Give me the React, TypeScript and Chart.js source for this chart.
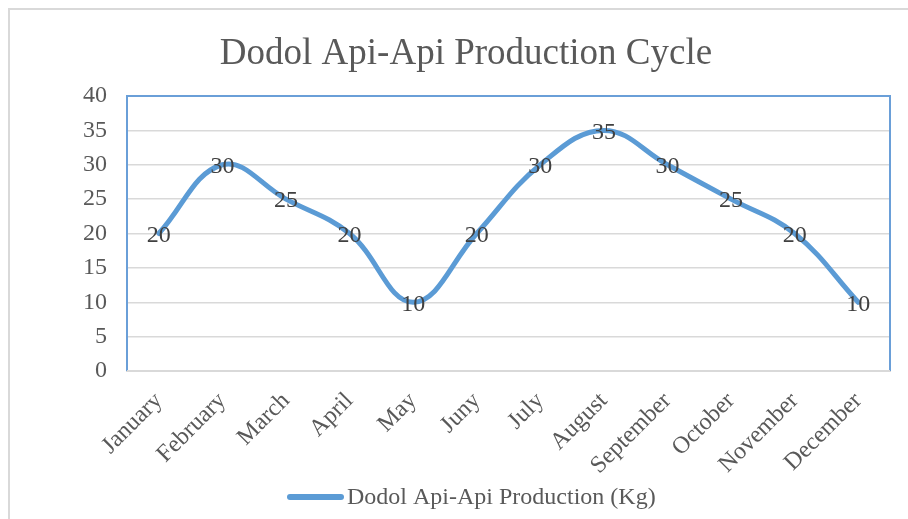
import React, { useEffect, useRef } from 'react';
import { Chart, registerables } from 'chart.js';

Chart.register(...registerables);

const chartTitle = 'Dodol Api-Api Production Cycle';
const seriesLabel = 'Dodol Api-Api Production (Kg)';
const months = [
  'January', 'February', 'March', 'April', 'May', 'Juny',
  'July', 'August', 'September', 'October', 'November', 'December',
];
const production = [20, 30, 25, 20, 10, 20, 30, 35, 30, 25, 20, 10];
const yMin = 0;
const yMax = 40;
const yStep = 5;

const SERIF = "'Times New Roman', 'Liberation Serif', serif";
const LINE_BLUE = '#5b9bd5';
const TEXT_GREY = '#595959';
const LABEL_DARK = '#404040';
const GRID_GREY = '#d9d9d9';

const W = 908;
const H = 519;

const framePlugin = {
  id: 'frame',
  beforeDraw(chart: any) {
    const ctx = chart.ctx;
    ctx.save();
    ctx.fillStyle = '#ffffff';
    ctx.fillRect(0, 0, chart.width, chart.height);
    ctx.strokeStyle = GRID_GREY;
    ctx.lineWidth = 2;
    ctx.strokeRect(9, 9, chart.width + 20, chart.height + 20);
    ctx.restore();
  },
};

const plotBorderPlugin = {
  id: 'plotBorder',
  beforeDatasetsDraw(chart: any) {
    const { ctx, chartArea } = chart;
    const { left, top, right, bottom } = chartArea;
    ctx.save();
    ctx.strokeStyle = '#6a9fd8';
    ctx.lineWidth = 2;
    ctx.beginPath();
    ctx.moveTo(left, bottom);
    ctx.lineTo(left, top);
    ctx.lineTo(right, top);
    ctx.lineTo(right, bottom);
    ctx.stroke();
    ctx.strokeStyle = GRID_GREY;
    ctx.beginPath();
    ctx.moveTo(left, bottom);
    ctx.lineTo(right, bottom);
    ctx.stroke();
    ctx.restore();
  },
};

const dataLabelPlugin = {
  id: 'dataLabels',
  afterDatasetsDraw(chart: any) {
    const ctx = chart.ctx;
    const meta = chart.getDatasetMeta(0);
    const data = chart.data.datasets[0].data as number[];
    ctx.save();
    ctx.font = `24px ${SERIF}`;
    ctx.fillStyle = LABEL_DARK;
    ctx.textAlign = 'center';
    ctx.textBaseline = 'middle';
    meta.data.forEach((pt: any, i: number) => {
      ctx.fillText(String(data[i]), pt.x, pt.y + 2);
    });
    ctx.restore();
  },
};

const titleLegendPlugin = {
  id: 'titleLegend',
  afterDraw(chart: any) {
    const ctx = chart.ctx;
    ctx.save();
    // title
    ctx.font = `37px ${SERIF}`;
    ctx.fillStyle = TEXT_GREY;
    ctx.textAlign = 'center';
    ctx.textBaseline = 'alphabetic';
    ctx.fillText(chartTitle, 466, 64);
    // legend
    const lx = 290;
    const ly = 497;
    ctx.strokeStyle = LINE_BLUE;
    ctx.lineWidth = 6;
    ctx.lineCap = 'round';
    ctx.beginPath();
    ctx.moveTo(lx, ly);
    ctx.lineTo(lx + 51, ly);
    ctx.stroke();
    ctx.font = `24px ${SERIF}`;
    ctx.textAlign = 'left';
    ctx.textBaseline = 'middle';
    ctx.fillStyle = TEXT_GREY;
    ctx.fillText(seriesLabel, 347, ly + 1);
    ctx.restore();
  },
};

export default function App() {
  const canvasRef = useRef<HTMLCanvasElement | null>(null);

  useEffect(() => {
    const canvas = canvasRef.current;
    if (!canvas) return;
    const chart = new Chart(canvas, {
      type: 'line',
      data: {
        labels: months,
        datasets: [
          {
            label: seriesLabel,
            data: production,
            borderColor: LINE_BLUE,
            backgroundColor: LINE_BLUE,
            borderWidth: 5,
            tension: 0.4,
            pointRadius: 0,
            pointHoverRadius: 0,
            fill: false,
            borderCapStyle: 'round',
            borderJoinStyle: 'round',
          },
        ],
      },
      options: {
        animation: false,
        responsive: false,
        maintainAspectRatio: false,
        devicePixelRatio: 1,
        layout: { padding: { top: 96, right: 18, left: 0, bottom: 0 } },
        plugins: {
          legend: { display: false },
          title: { display: false },
          tooltip: { enabled: false },
        },
        scales: {
          x: {
            type: 'category',
            offset: true,
            grid: { display: false, drawTicks: false },
            border: { display: true, color: GRID_GREY, width: 2 },
            ticks: {
              color: TEXT_GREY,
              font: { family: SERIF, size: 24 },
              minRotation: 45,
              maxRotation: 45,
              padding: 16,
              autoSkip: false,
            },
            afterFit(scale: any) {
              scale.height = 148;
            },
          },
          y: {
            min: yMin,
            max: yMax,
            grid: { color: GRID_GREY, lineWidth: 1.5, drawTicks: false },
            border: { display: false },
            ticks: {
              stepSize: yStep,
              color: TEXT_GREY,
              font: { family: SERIF, size: 24 },
              padding: 20,
            },
            afterFit(scale: any) {
              scale.width = 127;
            },
          },
        },
      },
      plugins: [framePlugin, plotBorderPlugin, dataLabelPlugin, titleLegendPlugin],
    });
    return () => chart.destroy();
  }, []);

  return (
    <div style={{ position: 'fixed', left: 0, top: 0, width: W, height: H }}>
      <canvas ref={canvasRef} width={W} height={H} style={{ width: W, height: H, display: 'block' }} />
    </div>
  );
}
